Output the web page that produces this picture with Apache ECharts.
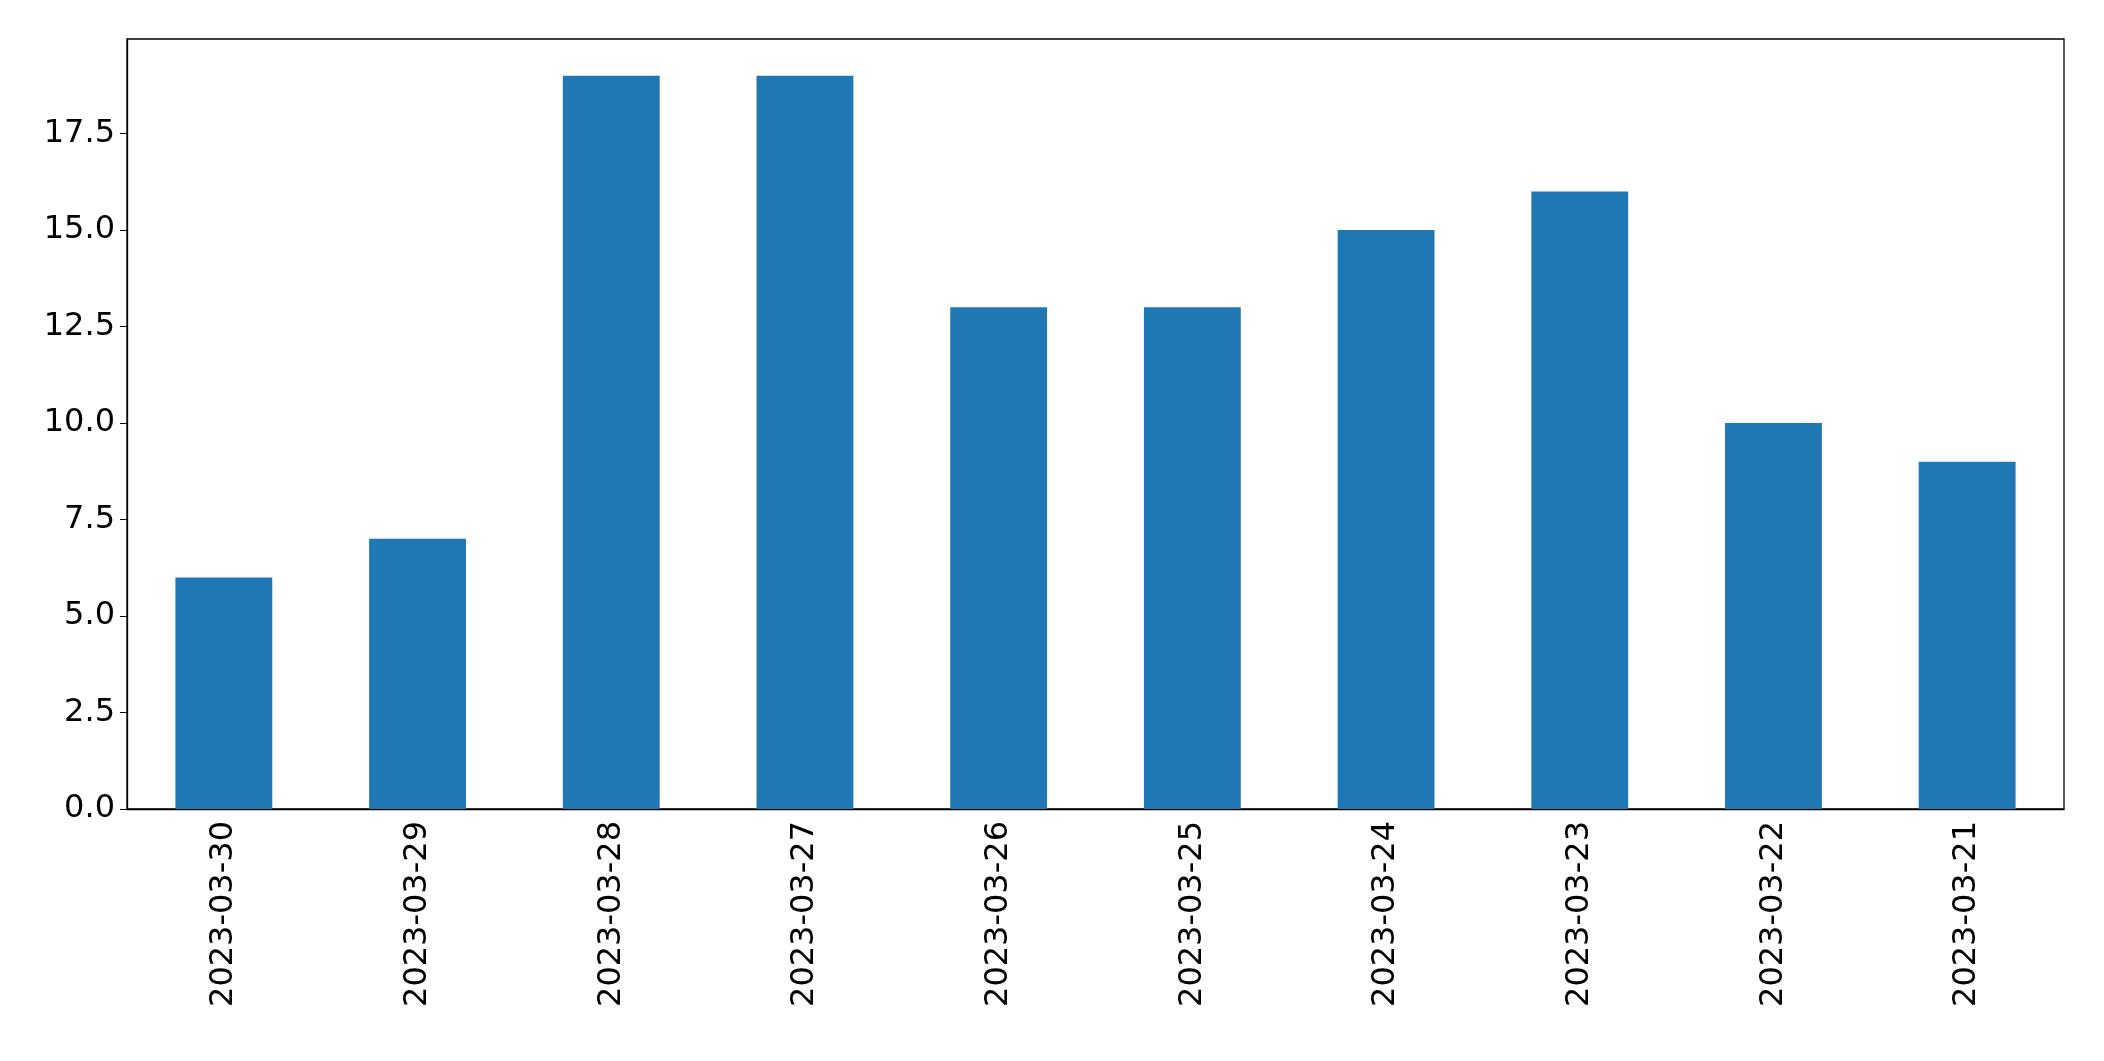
<!DOCTYPE html>
<html><head><meta charset="utf-8">
<script src="https://cdn.jsdelivr.net/npm/echarts@6/dist/echarts.min.js"></script>
<style>html,body{margin:0;padding:0;background:#fff}#c{width:2104px;height:1061px}</style>
</head><body><div id="c"></div>
<script>
const categories = ['2023-03-30','2023-03-29','2023-03-28','2023-03-27','2023-03-26','2023-03-25','2023-03-24','2023-03-23','2023-03-22','2023-03-21'];
const values = [6,7,19,19,13,13,15,16,10,9];
const chart = echarts.init(document.getElementById('c'));
chart.setOption({
  animation:false,
  grid:{left:127,right:40,top:39,bottom:252,show:true,borderColor:'#000',borderWidth:1.3},
  xAxis:{type:'category',data:categories,
    axisLine:{lineStyle:{color:'#000',width:1.3}},
    axisTick:{alignWithLabel:true,length:7,lineStyle:{color:'#000'}},
    axisLabel:{rotate:90,color:'#000',fontSize:32,fontFamily:'DejaVu Sans',margin:12}},
  yAxis:{type:'value',min:0,max:19.95,interval:2.5,
    splitLine:{show:false},
    axisLine:{show:true,lineStyle:{color:'#000',width:1.3}},
    axisTick:{show:true,length:7,lineStyle:{color:'#000'}},
    axisLabel:{showMaxLabel:false,color:'#000',fontSize:32,fontFamily:'DejaVu Sans',margin:12,formatter:v=>v.toFixed(1)}},
  series:[{type:'bar',data:values,barWidth:'50%',itemStyle:{color:'#1f77b4'}}]
});
</script></body></html>
